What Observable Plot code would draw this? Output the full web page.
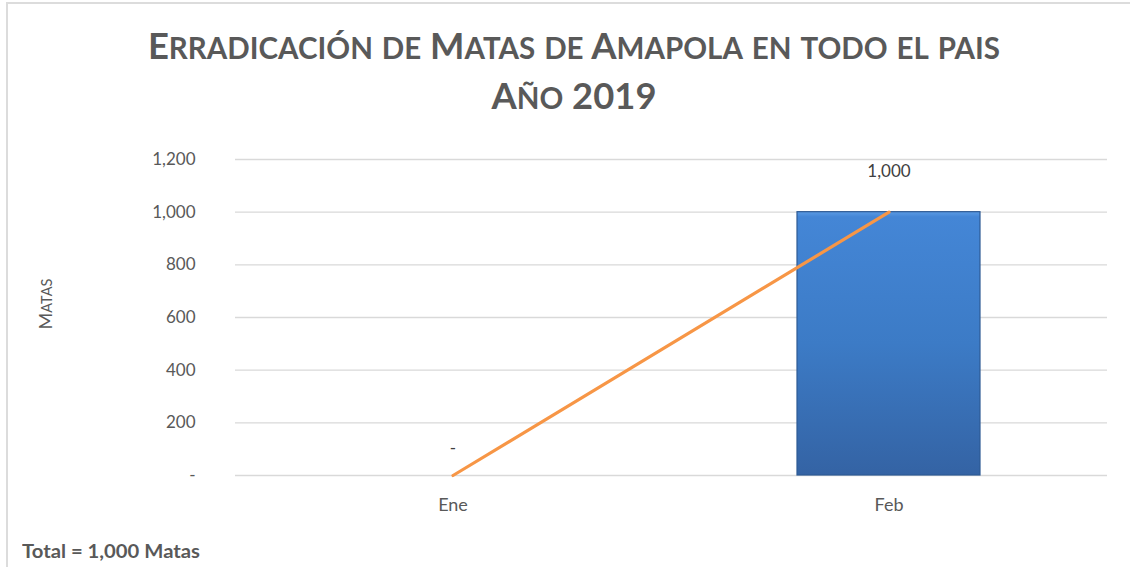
<!DOCTYPE html>
<html>
<head>
<meta charset="utf-8">
<script src="https://cdn.jsdelivr.net/npm/d3@7"></script>
<script src="https://cdn.jsdelivr.net/npm/@observablehq/plot@0.6"></script>
<style>
  html, body { margin: 0; padding: 0; background: #fff; }
  body { width: 1130px; height: 567px; position: relative; overflow: hidden; font-family: Lato, "Open Sans", sans-serif; }
  #frame { position: absolute; left: 6px; top: 2px; width: 1130px; height: 580px; border-left: 2px solid #dcdcdc; border-top: 2px solid #dcdcdc; }
  .title { position: absolute; left: 9px; width: 1130px; text-align: center; color: #595959; font-weight: bold; white-space: nowrap; }
  .title span.inner { display: inline-block; transform-origin: center; }
  #chart { position: absolute; left: 0; top: 130px; }
  #ylab { position: absolute; left: 45px; top: 304px; color: #595959; transform: translate(-50%, -50%) rotate(-90deg); white-space: nowrap; }
  #caption { position: absolute; left: 22px; top: 540px; color: #595959; font-weight: bold; font-size: 18px; white-space: nowrap; }
</style>
</head>
<body>
<div id="frame"></div>
<div class="title" id="t1" style="top:22px;"><span class="inner"></span></div>
<div class="title" id="t2" style="top:72px;"><span class="inner"></span></div>
<div id="ylab"></div>
<div id="chart"></div>
<div id="caption"></div>
<script>
const titleLine1 = "Erradicación de Matas de Amapola en todo el pais";
const titleLine2 = "Año 2019";
const yAxisLabel = "Matas";
const captionText = "Total = 1,000 Matas";
const categories = ["Ene", "Feb"];
const barValues = [0, 1000];
const lineValues = [0, 1000];
const yTicks = [0, 200, 400, 600, 800, 1000, 1200];

// small caps helper: uppercase letters / digits big, lowercase as smaller caps
function smallCaps(el, text, big, small) {
  el.innerHTML = "";
  for (const ch of text) {
    const s = document.createElement("span");
    const isLower = ch !== ch.toUpperCase();
    s.textContent = ch.toUpperCase();
    s.style.fontSize = (isLower ? small : big) + "px";
    el.appendChild(s);
  }
}
const t1 = document.querySelector("#t1 .inner");
const t2 = document.querySelector("#t2 .inner");
smallCaps(t1, titleLine1, 37, 30);
smallCaps(t2, titleLine2, 37, 30);
smallCaps(document.getElementById("ylab"), yAxisLabel, 18, 14.5);
const cap = document.getElementById("caption");
cap.textContent = captionText;

function fit(el, w) {
  const r = el.getBoundingClientRect().width;
  el.style.transform = `scaleX(${w / r})`;
}
fit(t1, 852);
fit(t2, 165);
cap.style.display = "inline-block";
cap.style.transformOrigin = "left center";
fit(cap, 178);

const data = categories.map((c, i) => ({cat: c, bar: barValues[i], line: lineValues[i]}));
const fmt = v => v === 0 ? "-" : d3.format(",")(v);

const plot = Plot.plot({
  width: 1130,
  height: 390,
  marginLeft: 235,
  marginRight: 23,
  marginTop: 29,
  marginBottom: 45,
  style: {fontFamily: "Lato, 'Open Sans', sans-serif", fontSize: "17px", color: "#595959", background: "transparent"},
  x: {domain: categories, paddingInner: 0.58, paddingOuter: 0.29, label: null},
  y: {domain: [0, 1200], ticks: yTicks, label: null},
  marks: [
    Plot.ruleY(yTicks, {stroke: "#d9d9d9", strokeWidth: 1.3}),
    Plot.axisY({ticks: yTicks, tickSize: 0, tickPadding: 40, tickFormat: fmt, label: null, fontSize: 17, fill: "#595959"}),
    Plot.axisX({tickSize: 0, tickPadding: 23, label: null, fontSize: 18, fill: "#595959"}),
    Plot.barY(data.filter(d => d.bar > 0), {x: "cat", y: "bar", fill: "url(#barGrad)", stroke: "#2d5a94", strokeWidth: 1.2}),
    Plot.line(data, {x: "cat", y: "line", stroke: "#F79646", strokeWidth: 3.2}),
    Plot.text(data.filter(d => d.line !== 0), {x: "cat", y: "line", text: d => fmt(d.line), dy: -41, fontSize: 17, fill: "#404040"}),
    Plot.text(data.filter(d => d.line === 0), {x: "cat", y: "line", text: d => fmt(d.line), dy: -27, fontSize: 17, fill: "#404040"})
  ]
});

const ns = "http://www.w3.org/2000/svg";
const defs = document.createElementNS(ns, "defs");
defs.innerHTML = `<linearGradient id="barGrad" x1="0" y1="0" x2="0" y2="1">
  <stop offset="0" stop-color="#5a9ae4"/>
  <stop offset="0.02" stop-color="#4486d6"/>
  <stop offset="0.5" stop-color="#3c7bc6"/>
  <stop offset="1" stop-color="#3463a4"/>
</linearGradient>`;
plot.insertBefore(defs, plot.firstChild);
document.getElementById("chart").appendChild(plot);
</script>
</body>
</html>
